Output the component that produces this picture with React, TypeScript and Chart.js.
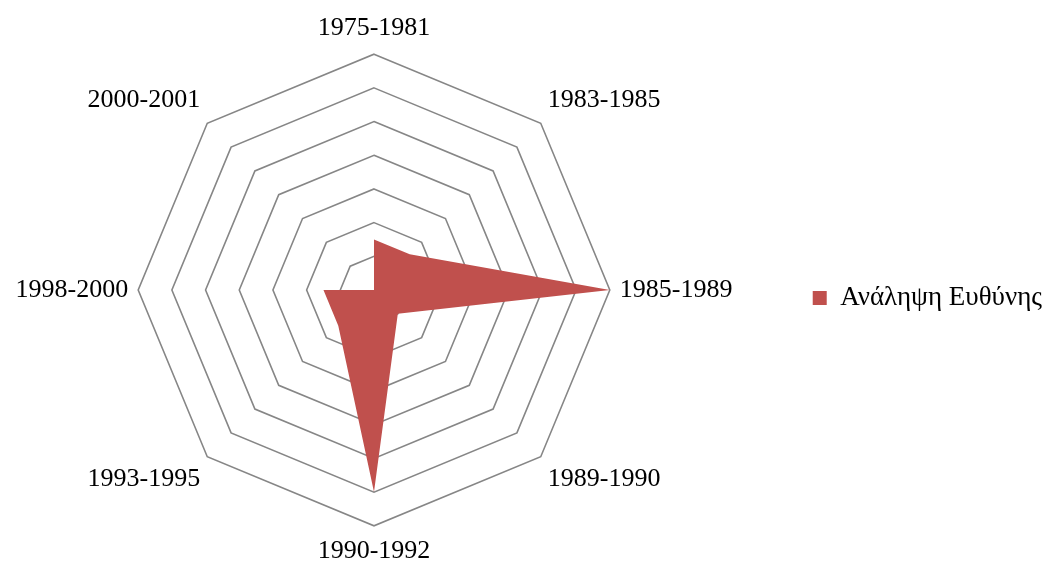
import React, { useEffect, useRef } from "react";
import { Chart, registerables } from "chart.js";

Chart.register(...registerables);

const categories = [
  "1975-1981",
  "1983-1985",
  "1985-1989",
  "1989-1990",
  "1990-1992",
  "1993-1995",
  "1998-2000",
  "2000-2001",
];
const seriesName = "Ανάληψη Ευθύνης";
const seriesValues = [3, 3, 14, 2, 12, 3, 3, 0];
const scaleMax = 14;
const scaleStep = 2;

const CANVAS_W = 1098;
const OFFSET_X = 54;

export default function App() {
  const ref = useRef<HTMLCanvasElement | null>(null);
  useEffect(() => {
    if (!ref.current) return;
    const chart = new Chart(ref.current, {
      type: "radar",
      data: {
        labels: categories,
        datasets: [
          {
            label: seriesName,
            data: seriesValues,
            backgroundColor: "#C0504D",
            borderColor: "#C0504D",
            borderWidth: 0,
            fill: true,
            pointRadius: 0,
            pointHoverRadius: 0,
          },
        ],
      },
      options: {
        animation: false,
        responsive: false,
        maintainAspectRatio: false,
        layout: { padding: { top: 13, bottom: -15, left: 0, right: -8 } },
        plugins: {
          tooltip: { enabled: false },
          legend: {
            position: "right",
            labels: {
              boxWidth: 14,
              boxHeight: 14,
              color: "#000",
              font: { family: "'Liberation Serif', 'Times New Roman', serif", size: 27 },
            },
          },
        },
        scales: {
          r: {
            min: 0,
            max: scaleMax,
            ticks: { stepSize: scaleStep, display: false },
            angleLines: { display: false },
            grid: { color: "#868686", lineWidth: 1.6 },
            pointLabels: {
              color: "#000",
              padding: 10,
              font: { family: "'Liberation Serif', 'Times New Roman', serif", size: 26 },
            },
          },
        },
      },
    });
    return () => chart.destroy();
  }, []);
  return (
    <div style={{ position: "fixed", left: 0, top: 0, width: 1044, height: 568, overflow: "hidden", background: "#fff" }}>
      <canvas
        ref={ref}
        width={CANVAS_W}
        height={568}
        style={{ position: "absolute", left: -OFFSET_X, top: 0, width: CANVAS_W, height: 568 }}
      />
    </div>
  );
}
